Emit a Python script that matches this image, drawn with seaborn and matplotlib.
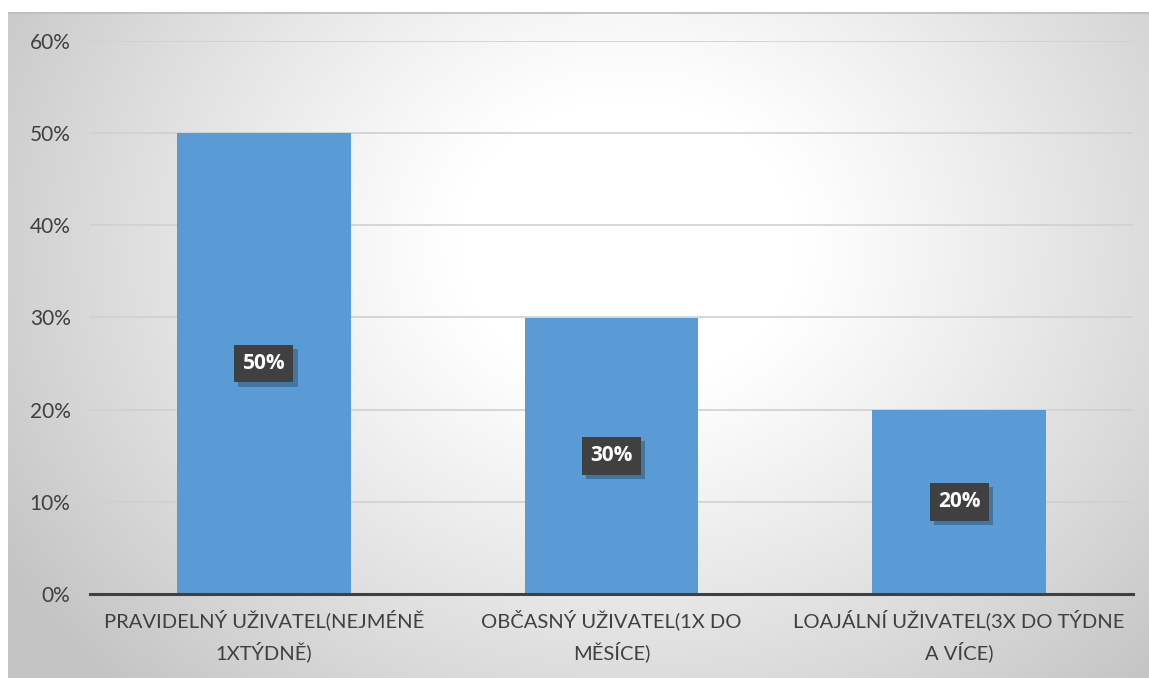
import numpy as np
import pandas as pd
import matplotlib
matplotlib.use("Agg")
import matplotlib.pyplot as plt
import matplotlib.patheffects as pe
from matplotlib.ticker import PercentFormatter, FixedLocator
import seaborn as sns

# Survey: share of users by usage frequency
categories = [
    "PRAVIDELNÝ UŽIVATEL(NEJMÉNĚ\n1XTÝDNĚ)",
    "OBČASNÝ UŽIVATEL(1X DO\nMĚSÍCE)",
    "LOAJÁLNÍ UŽIVATEL(3X DO TÝDNE\nA VÍCE)",
]
shares = [0.50, 0.30, 0.20]
value_labels = ["50%", "30%", "20%"]

df = pd.DataFrame({"category": categories, "share": shares})

sns.set_theme(style="white")
plt.rcParams["font.family"] = ["Lato", "DejaVu Sans"]

W, H, DPI = 1149, 678, 100
fig = plt.figure(figsize=(W / DPI, H / DPI), dpi=DPI)
fig.patch.set_facecolor("white")

# Radial-gradient chart area background
bg = fig.add_axes([8 / W, 0, 1 - 8 / W, (H - 12) / H])
bg.set_axis_off()
bw, bh = W - 8, H - 12
yy, xx = np.mgrid[0:bh, 0:bw]
cx, cy = 620, 230
r = np.sqrt(((xx - cx) / 1.0) ** 2 + ((yy - cy) / 0.85) ** 2)
t = np.clip((r - 170) / 560, 0, 1)
shade = 1 - 0.23 * t ** 1.1
img = np.dstack([shade, shade, shade])
bg.imshow(img, aspect="auto", extent=[0, 1, 0, 1], origin="upper")
bg.set_xlim(0, 1)
bg.set_ylim(0, 1)
bg.plot([0, 1], [0.999, 0.999], color="#bdbdbd", lw=1.2, solid_capstyle="butt")

ax = fig.add_axes([90 / W, 1 - 594 / H, (1133 - 90) / W, (594 - 41) / H])
ax.patch.set_alpha(0)

sns.barplot(data=df, x="category", y="share", color="#5B9BD5", saturation=1,
            width=0.5, linewidth=0, ax=ax, zorder=3)

ax.set_ylim(0, 0.6)
ax.set_xlim(-0.5, 2.5)
ax.yaxis.set_major_locator(FixedLocator(np.arange(0, 0.61, 0.1)))
ax.yaxis.set_major_formatter(PercentFormatter(1.0, decimals=0))
for yv in np.arange(0.1, 0.61, 0.1):
    ax.axhline(yv, color="#d0d0d0", lw=1.2, zorder=1)

for s in ["top", "right", "left"]:
    ax.spines[s].set_visible(False)
ax.spines["bottom"].set_color("#404040")
ax.spines["bottom"].set_linewidth(2.2)
ax.spines["bottom"].set_zorder(4)

ax.set_xlabel("")
ax.set_ylabel("")
ax.tick_params(axis="y", length=0, pad=14, labelsize=15, labelcolor="#404040")
ax.set_xticks([0, 1, 2])
ax.set_xticklabels(categories, fontsize=14.5, color="#404040", linespacing=1.6)
ax.tick_params(axis="x", length=0, pad=11)
ax.set_xticks([-0.5, 0.5, 1.5, 2.5], minor=True)
ax.tick_params(axis="x", which="minor", length=6, width=2.2, color="#404040",
               direction="out")

for i, (v, lab) in enumerate(zip(shares, value_labels)):
    txt = ax.text(i, v / 2, lab, ha="center", va="center", fontsize=15,
                  fontweight="bold", color="white", zorder=6,
                  family=["Open Sans", "DejaVu Sans"],
                  bbox=dict(boxstyle="square,pad=0.4", fc="#404040",
                            ec="none"))
    txt.get_bbox_patch().set_path_effects([
        pe.SimplePatchShadow(offset=(3, -3), shadow_rgbFace="#1f3c5a", alpha=0.4),
        pe.Normal(),
    ])

fig.savefig("out.png", dpi=DPI)
